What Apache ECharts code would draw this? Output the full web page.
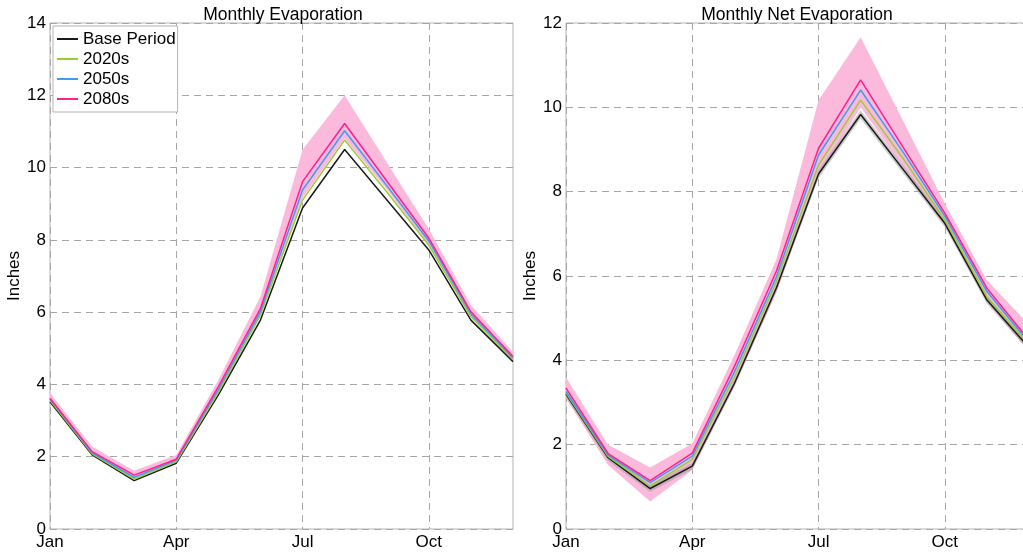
<!DOCTYPE html>
<html>
<head>
<meta charset="utf-8">
<script src="https://cdn.jsdelivr.net/npm/echarts@6/dist/echarts.min.js"></script>
<style>
  html, body { margin: 0; padding: 0; background: #fff; }
  #chart { width: 1023px; height: 554px; }
</style>
</head>
<body>
<div id="chart"></div>
<script>
// Month categories and tick labels
const months = ['Jan', 'Feb', 'Mar', 'Apr', 'May', 'Jun', 'Jul', 'Aug', 'Sep', 'Oct', 'Nov', 'Dec'];
const seriesNames = ['Base Period', '2020s', '2050s', '2080s'];

// Monthly evaporation (inches)
const evapBase = [3.52, 2.05, 1.34, 1.82, 3.71, 5.78, 8.88, 10.50, 9.11, 7.72, 5.78, 4.63];
const evap2020 = [3.56, 2.08, 1.38, 1.86, 3.78, 5.92, 9.10, 10.76, 9.33, 7.85, 5.88, 4.68];
const evap2050 = [3.60, 2.11, 1.43, 1.90, 3.86, 6.01, 9.38, 11.02, 9.50, 7.97, 5.95, 4.73];
const evap2080 = [3.62, 2.14, 1.49, 1.93, 3.94, 6.10, 9.61, 11.22, 9.63, 8.05, 6.01, 4.77];
const evap2080Low  = [3.55, 2.07, 1.38, 1.84, 3.76, 5.90, 9.15, 10.80, 9.40, 7.85, 5.85, 4.68];
const evap2080High = [3.76, 2.28, 1.61, 2.05, 4.12, 6.43, 10.49, 12.00, 10.15, 8.30, 6.20, 4.90];

// Monthly net evaporation (inches)
const netBase = [3.20, 1.69, 0.96, 1.49, 3.45, 5.72, 8.42, 9.83, 8.54, 7.25, 5.43, 4.30];
const net2020 = [3.23, 1.72, 1.02, 1.65, 3.60, 5.87, 8.63, 10.17, 8.80, 7.33, 5.51, 4.37];
const net2050 = [3.26, 1.75, 1.10, 1.73, 3.72, 5.98, 8.87, 10.41, 8.95, 7.42, 5.63, 4.42];
const net2080 = [3.34, 1.79, 1.15, 1.80, 3.85, 6.12, 9.03, 10.65, 9.07, 7.49, 5.71, 4.48];
const net2080Low  = [3.10, 1.52, 0.65, 1.40, 3.40, 5.60, 8.40, 10.00, 8.60, 7.20, 5.40, 4.20];
const net2080High = [3.60, 2.00, 1.46, 2.03, 4.12, 6.40, 10.17, 11.66, 9.70, 7.72, 5.90, 4.85];
const netBaseLow  = [3.12, 1.61, 0.88, 1.41, 3.37, 5.64, 8.32, 9.73, 8.45, 7.16, 5.34, 4.22];
const netBaseHigh = [3.28, 1.77, 1.04, 1.57, 3.53, 5.80, 8.52, 9.93, 8.63, 7.34, 5.52, 4.38];

// Y-axis ticks
const evapTicks = { min: 0, max: 14, interval: 2 };
const netTicks = { min: 0, max: 12, interval: 2 };

const lineColors = ['#1a1a1a', '#9acd32', '#3d9cf5', '#ff1f8f'];
const font = 'Liberation Sans, Arial, sans-serif';
const dash = { color: '#a6a6a6', width: 1, type: [7, 5] };

function span(lo, hi) { return hi.map((v, i) => +(v - lo[i]).toFixed(3)); }

function bandSeries(idx, lo, hi, color, key) {
  return [
    { type: 'line', xAxisIndex: idx, yAxisIndex: idx, stack: key, data: lo,
      symbol: 'none', silent: true, lineStyle: { opacity: 0 }, z: 1 },
    { type: 'line', xAxisIndex: idx, yAxisIndex: idx, stack: key, data: span(lo, hi),
      symbol: 'none', silent: true, lineStyle: { opacity: 0 },
      areaStyle: { color: color, opacity: 1 }, z: 1 }
  ];
}

function lineSeries(idx, arrays) {
  return arrays.map((d, i) => ({
    type: 'line', name: seriesNames[i], xAxisIndex: idx, yAxisIndex: idx,
    data: d, symbol: 'none', color: lineColors[i],
    lineStyle: { width: 1.5, color: lineColors[i] }, z: 3 + i
  }));
}

function xAxis(idx) {
  return {
    type: 'category', gridIndex: idx, data: months, boundaryGap: false,
    axisLine: { show: false }, axisTick: { show: false },
    axisLabel: { interval: 2, color: '#000', fontSize: 17, fontFamily: font, margin: 5 },
    splitLine: { show: true, interval: 2, lineStyle: dash }
  };
}

function yAxis(idx, ticks) {
  return {
    type: 'value', gridIndex: idx, min: ticks.min, max: ticks.max, interval: ticks.interval,
    name: 'Inches', nameLocation: 'middle', nameGap: 22, nameRotate: 90,
    nameTextStyle: { color: '#000', fontSize: 17, fontFamily: font },
    axisLine: { show: false }, axisTick: { show: false },
    axisLabel: { color: '#000', fontSize: 17, fontFamily: font, margin: 4 },
    splitLine: { show: true, lineStyle: dash }
  };
}

const chart = echarts.init(document.getElementById('chart'), null, { renderer: 'canvas' });
chart.setOption({
  animation: false,
  backgroundColor: '#fff',
  title: [
    { text: 'Monthly Evaporation', left: 278, top: 1, textAlign: 'center',
      textStyle: { fontSize: 17.5, fontWeight: 'normal', color: '#000', fontFamily: font } },
    { text: 'Monthly Net Evaporation', left: 792, top: 1, textAlign: 'center',
      textStyle: { fontSize: 17.5, fontWeight: 'normal', color: '#000', fontFamily: font } }
  ],
  grid: [
    { left: 50, width: 463, top: 23, bottom: 25, outerBoundsMode: 'none',
      show: true, borderColor: '#b3b3b3', borderWidth: 1, backgroundColor: 'transparent' },
    { left: 566, width: 463, top: 23, bottom: 25, outerBoundsMode: 'none',
      show: true, borderColor: '#b3b3b3', borderWidth: 1, backgroundColor: 'transparent' }
  ],
  legend: {
    data: seriesNames, orient: 'vertical', left: 53, top: 26,
    icon: 'rect', itemWidth: 21, itemHeight: 2, itemGap: 2,
    padding: [4, 2, 4, 4],
    backgroundColor: '#fff', borderColor: '#b3b3b3', borderWidth: 1,
    textStyle: { fontSize: 17, color: '#000', fontFamily: font, lineHeight: 18 },
    selectedMode: false
  },
  xAxis: [xAxis(0), xAxis(1)],
  yAxis: [yAxis(0, evapTicks), yAxis(1, netTicks)],
  series: [
    ...bandSeries(0, evap2080Low, evap2080High, '#fbbadb', 'e80'),
    ...lineSeries(0, [evapBase, evap2020, evap2050, evap2080]),
    ...bandSeries(1, net2080Low, net2080High, '#fbbadb', 'n80'),
    ...bandSeries(1, netBaseLow, netBaseHigh, 'rgba(160,160,160,0.55)', 'n0'),
    ...lineSeries(1, [netBase, net2020, net2050, net2080])
  ]
});
</script>
</body>
</html>
